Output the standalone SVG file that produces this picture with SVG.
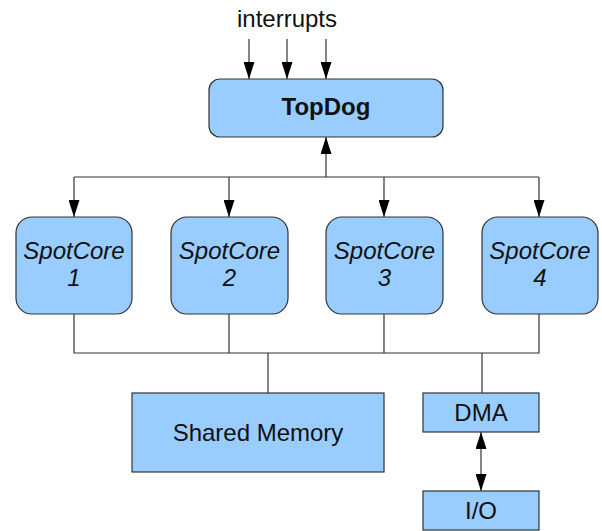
<svg xmlns="http://www.w3.org/2000/svg" width="602" height="531" viewBox="0 0 602 531">
<style>
.box{fill:#99ccff;stroke:#333;stroke-width:1.2}
.t{font-family:"Liberation Sans",Arial,sans-serif;font-size:24px;fill:#111;text-anchor:middle}
.b{font-weight:bold}
.i{font-style:italic}
.c{fill:none;stroke:#333;stroke-width:1.2}
</style>
<defs>
<marker id="ah" viewBox="0 0 17 11" refX="17" refY="5.5" markerWidth="17" markerHeight="11" markerUnits="userSpaceOnUse" orient="auto-start-reverse">
<path d="M0,0 L17,5.5 L0,11 z" fill="#000"/>
</marker>
</defs>
<rect width="602" height="531" fill="#fff"/>
<g id="connectors">
<line class="c" x1="249" y1="39" x2="249" y2="79" marker-end="url(#ah)"/>
<line class="c" x1="287" y1="39" x2="287" y2="79" marker-end="url(#ah)"/>
<line class="c" x1="326" y1="39" x2="326" y2="79" marker-end="url(#ah)"/>
<line class="c" x1="326" y1="177" x2="326" y2="137" marker-end="url(#ah)"/>
<polyline class="c" points="74,177 539,177"/>
<line class="c" x1="74" y1="177" x2="74" y2="217" marker-end="url(#ah)"/>
<line class="c" x1="229" y1="177" x2="229" y2="217" marker-end="url(#ah)"/>
<line class="c" x1="384" y1="177" x2="384" y2="217" marker-end="url(#ah)"/>
<line class="c" x1="539" y1="177" x2="539" y2="217" marker-end="url(#ah)"/>
<polyline class="c" points="74,314 74,353 539,353 539,314"/>
<line class="c" x1="229" y1="314" x2="229" y2="353"/>
<line class="c" x1="384" y1="314" x2="384" y2="353"/>
<line class="c" x1="268" y1="353" x2="268" y2="393"/>
<line class="c" x1="482" y1="353" x2="482" y2="393"/>
<line class="c" x1="481" y1="432" x2="481" y2="491" marker-start="url(#ah)" marker-end="url(#ah)"/>
</g>
<text class="t" x="287" y="27">interrupts</text>
<g id="topdog">
<rect class="box" x="209" y="79" width="234" height="58" rx="11"/>
<text class="t b" x="326" y="115">TopDog</text>
</g>
<g id="spotcore1">
<rect class="box" x="16" y="217" width="116" height="97" rx="16"/>
<text class="t i" x="74" y="259">SpotCore</text>
<text class="t i" x="74" y="286">1</text>
</g>
<g id="spotcore2">
<rect class="box" x="171" y="217" width="117" height="97" rx="16"/>
<text class="t i" x="229.5" y="259">SpotCore</text>
<text class="t i" x="229.5" y="286">2</text>
</g>
<g id="spotcore3">
<rect class="box" x="326" y="217" width="117" height="97" rx="16"/>
<text class="t i" x="384.5" y="259">SpotCore</text>
<text class="t i" x="384.5" y="286">3</text>
</g>
<g id="spotcore4">
<rect class="box" x="482" y="217" width="116" height="97" rx="16"/>
<text class="t i" x="540" y="259">SpotCore</text>
<text class="t i" x="540" y="286">4</text>
</g>
<g id="sharedmemory">
<rect class="box" x="132" y="393" width="252" height="79"/>
<text class="t" x="258" y="441">Shared Memory</text>
</g>
<g id="dma">
<rect class="box" x="423" y="393" width="116" height="39"/>
<text class="t" x="481" y="421">DMA</text>
</g>
<g id="io">
<rect class="box" x="423" y="491" width="116" height="39"/>
<text class="t" x="481" y="519">I/O</text>
</g>
</svg>
